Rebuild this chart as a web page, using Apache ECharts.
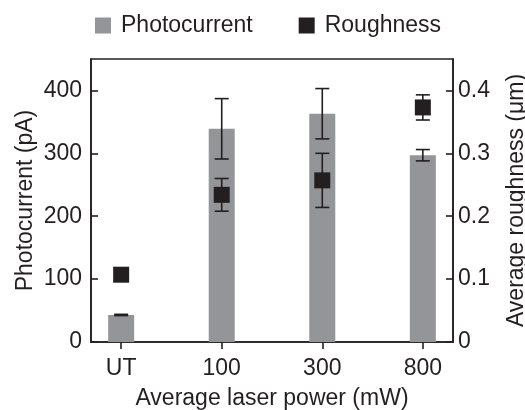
<!DOCTYPE html>
<html>
<head>
<meta charset="utf-8">
<script src="https://cdn.jsdelivr.net/npm/echarts@6/dist/echarts.min.js"></script>
<style>
  html, body { margin: 0; padding: 0; background: #fff; }
  #chart { width: 525px; height: 410px; }
</style>
</head>
<body>
<div id="chart"></div>
<script>
// Laser power groups (x positions 0..3)
const categories = ['UT', '100', '300', '800'];

// Photocurrent (pA) with standard deviation
const photocurrent = [43, 339, 363, 297];
const photocurrentErr = [1, 48, 40, 9];

// Average roughness (µm) with standard deviation
const roughness = [0.107, 0.234, 0.257, 0.373];
const roughnessErr = [0.005, 0.026, 0.043, 0.02];

// Axis tick values
const leftTicks = [0, 100, 200, 300, 400];
const rightTicks = [0, 0.1, 0.2, 0.3, 0.4];
const xTicks = [0, 1, 2, 3];

const ink = '#231f20';
const barGray = '#939598';
const font = 'Liberation Sans, Arial, sans-serif';
const fs = 23;

function errorSeries(values, errs, axisIndex) {
  return {
    type: 'custom',
    yAxisIndex: axisIndex,
    z: 5,
    silent: true,
    data: values.map((v, i) => [i, v - errs[i], v + errs[i]]),
    renderItem: function (params, api) {
      const x = api.value(0);
      const lo = api.coord([x, api.value(1)]);
      const hi = api.coord([x, api.value(2)]);
      const cap = 7;
      const style = { stroke: ink, lineWidth: 1.6, fill: 'none' };
      return {
        type: 'group',
        children: [
          { type: 'line', shape: { x1: hi[0], y1: hi[1], x2: lo[0], y2: lo[1] }, style: style },
          { type: 'line', shape: { x1: hi[0] - cap, y1: hi[1], x2: hi[0] + cap, y2: hi[1] }, style: style },
          { type: 'line', shape: { x1: lo[0] - cap, y1: lo[1], x2: lo[0] + cap, y2: lo[1] }, style: style }
        ]
      };
    }
  };
}

const chart = echarts.init(document.getElementById('chart'), null, { renderer: 'canvas' });

chart.setOption({
  animation: false,
  backgroundColor: '#fff',
  textStyle: { fontFamily: font, color: ink },
  legend: {
    left: 90,
    top: 9,
    itemWidth: 16,
    itemHeight: 16,
    itemGap: 46,
    icon: 'rect',
    textStyle: { fontFamily: font, fontSize: fs, color: ink, padding: [0, 0, 0, 5] },
    data: [
      { name: 'Photocurrent', itemStyle: { color: barGray } },
      { name: 'Roughness', itemStyle: { color: ink } }
    ]
  },
  grid: {
    left: 91, right: 72, top: 59, bottom: 68,
    outerBoundsMode: 'none',
    containLabel: false,
    show: true, borderColor: ink, borderWidth: 1.6, backgroundColor: 'transparent'
  },
  xAxis: {
    type: 'value',
    min: -0.3,
    max: 3.3,
    name: 'Average laser power (mW)',
    nameLocation: 'middle',
    nameGap: 45,
    nameMoveOverlap: false,
    nameTextStyle: { fontFamily: font, fontSize: fs, color: ink },
    axisLine: { lineStyle: { color: ink, width: 1.6 } },
    axisTick: { customValues: xTicks, length: 7, lineStyle: { color: ink, width: 1.6 } },
    axisLabel: {
      customValues: xTicks,
      margin: 15,
      fontSize: fs,
      fontFamily: font,
      color: ink,
      formatter: v => categories[Math.round(v)]
    },
    splitLine: { show: false }
  },
  yAxis: [
    {
      type: 'value',
      min: 0,
      max: 450,
      name: 'Photocurrent (pA)',
      nameLocation: 'middle',
      nameGap: 54,
      nameMoveOverlap: false,
      nameTextStyle: { fontFamily: font, fontSize: fs, color: ink },
      axisLine: { show: true, onZero: false, lineStyle: { color: ink, width: 1.6 } },
      axisTick: { show: true, inside: true, customValues: leftTicks, length: 7, lineStyle: { color: ink, width: 1.6 } },
      axisLabel: { customValues: leftTicks, margin: 9, fontSize: fs, fontFamily: font, color: ink },
      splitLine: { show: false }
    },
    {
      type: 'value',
      min: 0,
      max: 0.45,
      position: 'right',
      name: 'Average roughness (μm)',
      nameLocation: 'middle',
      nameRotate: 90,
      nameGap: 52,
      nameMoveOverlap: false,
      nameTextStyle: { fontFamily: font, fontSize: fs, color: ink },
      axisLine: { show: true, onZero: false, lineStyle: { color: ink, width: 1.6 } },
      axisTick: { show: true, inside: true, customValues: rightTicks, length: 7, lineStyle: { color: ink, width: 1.6 } },
      axisLabel: {
        customValues: rightTicks,
        margin: 5,
        fontSize: fs,
        fontFamily: font,
        color: ink,
        formatter: v => (v === 0 ? '0' : v.toFixed(1))
      },
      splitLine: { show: false }
    }
  ],
  series: [
    {
      name: 'Photocurrent',
      type: 'bar',
      yAxisIndex: 0,
      barWidth: 26,
      itemStyle: { color: barGray },
      data: photocurrent.map((v, i) => [i, v]),
      z: 2
    },
    errorSeries(photocurrent, photocurrentErr, 0),
    errorSeries(roughness, roughnessErr, 1),
    {
      name: 'Roughness',
      type: 'scatter',
      yAxisIndex: 1,
      symbol: 'rect',
      symbolSize: 16,
      itemStyle: { color: ink, opacity: 1 },
      data: roughness.map((v, i) => [i, v]),
      z: 10
    }
  ]
});
</script>
</body>
</html>
